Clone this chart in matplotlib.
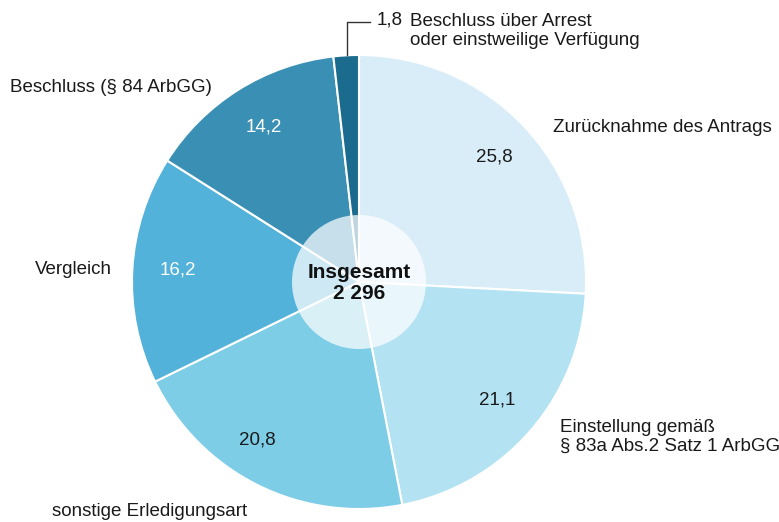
import matplotlib.pyplot as plt
from matplotlib.patches import Circle

plt.rcParams['font.family'] = ['Liberation Sans', 'DejaVu Sans']

# shares in percent, clockwise from 12 o'clock
categories = ['Zurücknahme des Antrags',
              'Einstellung gemäß\n§ 83a Abs.2 Satz 1 ArbGG',
              'sonstige Erledigungsart',
              'Vergleich',
              'Beschluss (§ 84 ArbGG)',
              'Beschluss über Arrest\noder einstweilige Verfügung']
values = [25.8, 21.1, 20.8, 16.2, 14.2, 1.8]
value_labels = ['25,8', '21,1', '20,8', '16,2', '14,2', '1,8']
total_label = 'Insgesamt\n2 296'

colors = ['#d9edf8', '#b3e2f2', '#7ecde6', '#53b2da', '#3a8fb5', '#1b6b8f']

W, H = 779, 522
fig = plt.figure(figsize=(W / 100, H / 100), dpi=100)
ax = fig.add_axes([0, 0, 1, 1])

# y axis is flipped below (pixel coords), so counterclock=True
# from -90 draws clockwise from the top on screen
cx, cy, r = 359, 282, 227
ax.pie(values, colors=colors, startangle=-90, counterclock=True,
       center=(cx, cy), radius=r, frame=True,
       wedgeprops=dict(edgecolor='white', linewidth=1.5))
ax.set_xlim(0, W)
ax.set_ylim(H, 0)
ax.set_aspect('equal')
ax.axis('off')

ax.add_patch(Circle((cx, cy), 67, facecolor='white', alpha=0.72,
                    edgecolor='none', zorder=3))
ax.text(cx, cy + 1, total_label, ha='center', va='center', fontsize=15,
        fontweight='bold', color='#111111', linespacing=1.15, zorder=4)

fs = 13.5
dark = '#1a1a1a'
# value labels inside slices
val_pos = [(494, 157), (497, 400), (257, 440), (178, 270), (264, 127)]
val_col = [dark, dark, dark, 'white', 'white']
for (x, y), t, c in zip(val_pos, value_labels[:5], val_col):
    ax.text(x, y, t, ha='center', va='center', fontsize=fs, color=c)

# category labels
cat_pos = [(553, 128), (560, 437), (52, 511), (35, 270), (10, 88)]
for (x, y), t in zip(cat_pos, categories[:5]):
    ax.text(x, y, t, ha='left', va='center', fontsize=fs, color=dark,
            linespacing=1.1)

# small slice with leader line
ax.plot([347, 347, 370], [55, 22, 22], color='#333333', lw=1, zorder=2)
ax.text(377, 20, value_labels[5], ha='left', va='center', fontsize=fs,
        color=dark)
ax.text(410, 31, categories[5], ha='left', va='center', fontsize=fs,
        color=dark, linespacing=1.1)

fig.savefig('out.png', dpi=100)
